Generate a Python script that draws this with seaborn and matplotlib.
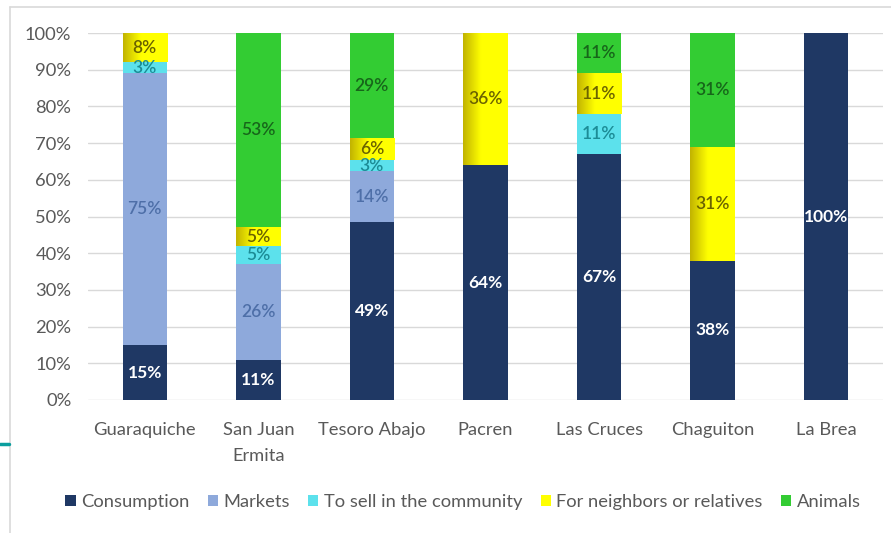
import numpy as np
import pandas as pd
import matplotlib
matplotlib.use("Agg")
import matplotlib.pyplot as plt
from matplotlib.colors import LinearSegmentedColormap
from matplotlib.lines import Line2D
from matplotlib.patches import Patch
import seaborn as sns

# Destination of production per community (% of households)
communities = ["Guaraquiche", "San Juan\nErmita", "Tesoro Abajo", "Pacren",
               "Las Cruces", "Chaguiton", "La Brea"]
consumption = [15, 11, 49, 64, 67, 38, 100]
markets = [75, 26, 14, 0, 0, 0, 0]
sell_community = [3, 5, 3, 0, 11, 0, 0]
neighbors = [8, 5, 6, 36, 11, 31, 0]
animals = [0, 53, 29, 0, 11, 31, 0]

series_names = ["Consumption", "Markets", "To sell in the community",
                "For neighbors or relatives", "Animals"]
series_values = [consumption, markets, sell_community, neighbors, animals]
colors = ["#1F3864", "#8EA9DB", "#5CE1EC", "#FFFF00", "#33CC33"]
label_colors = ["white", "#4E6FA8", "#1C8C96", "#6B6300", "#17661A"]

sns.set_theme(style="white")
plt.rcParams["font.family"] = ["Lato", "DejaVu Sans"]

vals = np.array(series_values, dtype=float)          # series x community
shares = vals / vals.sum(axis=0) * 100                 # 100% stacked
cum = np.cumsum(shares, axis=0)

fig = plt.figure(figsize=(8.91, 5.33), dpi=100)
W, H = 891, 533
ax = fig.add_axes([88 / W, 1 - 400 / H, (883 - 88) / W, (400 - 33) / H])

# Overlapping cumulative bars, drawn from the top layer down
bar_width = 0.39
for i in range(len(series_names) - 1, -1, -1):
    df = pd.DataFrame({"community": communities, "top": cum[i]})
    sns.barplot(data=df, x="community", y="top", order=communities,
                color=colors[i], saturation=1, width=bar_width,
                linewidth=0, ax=ax, zorder=2)

# Gradient shading on the yellow segments
grad = LinearSegmentedColormap.from_list(
    "yel", [(0, "#C2B400"), (0.4, "#FFFF00"), (1, "#FFFF00")])
gx = np.linspace(0, 1, 64).reshape(1, -1)
for j in range(len(communities)):
    if shares[3, j] <= 0:
        continue
    bottom = cum[2, j]
    top = cum[3, j]
    x0, x1 = j - bar_width / 2, j + bar_width / 2
    ax.imshow(gx, cmap=grad, aspect="auto", extent=[x0, x1, bottom, top],
              zorder=3, interpolation="bilinear")

# Segment value labels
for i, name in enumerate(series_names):
    for j in range(len(communities)):
        v = vals[i, j]
        if v <= 0:
            continue
        yc = cum[i, j] - shares[i, j] / 2
        ax.text(j, yc, f"{v:.0f}%", ha="center", va="center",
                fontsize=12.5, color=label_colors[i],
                fontweight="bold" if i == 0 else "semibold", zorder=5)

ax.set_xlim(-0.5, len(communities) - 0.5)
ax.set_ylim(0, 100)
ax.set_yticks(np.arange(0, 101, 10))
ax.set_yticklabels([f"{t}%" for t in range(0, 101, 10)])
ax.yaxis.grid(True, color="#D9D9D9", linewidth=1)
ax.set_axisbelow(True)
for s in ax.spines.values():
    s.set_visible(False)
ax.set_xlabel("")
ax.set_ylabel("")
ax.tick_params(axis="y", length=0, pad=12, labelsize=13.2, labelcolor="#595959")
ax.tick_params(axis="x", length=0, pad=16, labelsize=13.2, labelcolor="#595959")
for t in ax.get_xticklabels():
    t.set_linespacing(1.75)

# Legend
handles = [Patch(facecolor=c, edgecolor="none") for c in colors]
fig.legend(handles, series_names, loc="center", bbox_to_anchor=(463 / W, 1 - 502 / H),
           ncol=5, frameon=False, fontsize=13.2, labelcolor="#595959",
           handlelength=0.55, handleheight=0.55, handletextpad=0.3,
           columnspacing=1.0)

# Chart frame and accent mark
fig.add_artist(Line2D([10 / W, 1], [1 - 7 / H, 1 - 7 / H], color="#D9D9D9",
                      linewidth=1.2, transform=fig.transFigure))
fig.add_artist(Line2D([10 / W, 10 / W], [0, 1 - 7 / H], color="#D9D9D9",
                      linewidth=1.2, transform=fig.transFigure))
fig.add_artist(Line2D([0, 9 / W], [1 - 444 / H, 1 - 444 / H], color="#0A9E9E",
                      linewidth=2.5, transform=fig.transFigure))

fig.savefig("out.png", dpi=100)
